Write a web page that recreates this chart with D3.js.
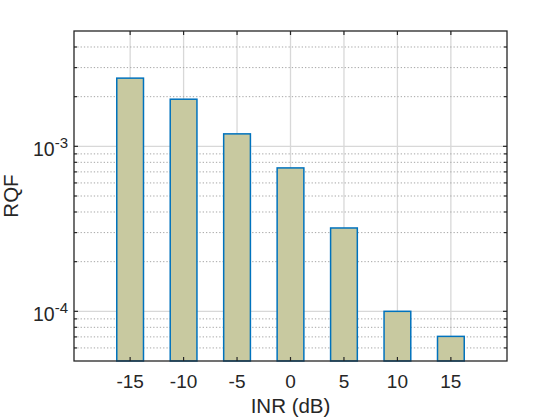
<!DOCTYPE html>
<html>
<head>
<meta charset="utf-8">
<script src="https://cdn.jsdelivr.net/npm/d3@7"></script>
<style>
  body { margin: 0; background: #fff; }
  text { font-family: "Liberation Sans", Arial, Helvetica, sans-serif; fill: #262626; }
</style>
</head>
<body>
<div id="main"></div>
<script>
// INR values (dB) and the measured RQF for each
const inr = [-15, -10, -5, 0, 5, 10, 15];
const rqf = [2.59e-3, 1.93e-3, 1.19e-3, 7.4e-4, 3.2e-4, 1.0e-4, 7.05e-5];
// decades that get a labelled tick
const yTickExps = [-4, -3];

const width = 560, height = 420;
const plotL = 74, plotR = 507, plotT = 31, plotB = 361;

const svg = d3.select('#main')
    .append('svg')
        .attr('width', width)
        .attr('height', height);

const x = d3.scaleLinear().domain([-20.25, 20.25]).range([plotL, plotR]);
const y = d3.scaleLog().domain([5e-5, 5e-3]).range([plotB, plotT]);

// minor ticks: 2..9 of each decade inside the domain
const minor = [];
[-5, -4, -3].forEach(e => {
    for (let m = 2; m <= 9; m++) {
        const v = m * Math.pow(10, e);
        if (v > 5e-5 && v < 5e-3) minor.push(v);
    }
});
const major = yTickExps.map(e => Math.pow(10, e));

// grid lines (behind bars)
const grid = svg.append('g');
grid.selectAll('.xgrid').data(inr).enter().append('line')
    .attr('x1', d => x(d)).attr('x2', d => x(d))
    .attr('y1', plotT).attr('y2', plotB)
    .attr('stroke', '#d8d8d8').attr('stroke-width', 1.3);
grid.selectAll('.ymin').data(minor).enter().append('line')
    .attr('x1', plotL).attr('x2', plotR)
    .attr('y1', d => y(d)).attr('y2', d => y(d))
    .attr('stroke', '#a6a6a6').attr('stroke-width', 1)
    .attr('stroke-dasharray', '1.3,2');
grid.selectAll('.ymaj').data(major).enter().append('line')
    .attr('x1', plotL).attr('x2', plotR)
    .attr('y1', d => y(d)).attr('y2', d => y(d))
    .attr('stroke', '#d8d8d8').attr('stroke-width', 1.3);

// bars
const barW = x(2.5) - x(0);
svg.selectAll('.bar').data(inr).enter().append('rect')
    .attr('x', d => x(d) - barW / 2)
    .attr('width', barW)
    .attr('y', (d, i) => y(rqf[i]))
    .attr('height', (d, i) => plotB - y(rqf[i]))
    .attr('fill', '#c8c9a0')
    .attr('stroke', '#0072bd')
    .attr('stroke-width', 1.5);

// box
svg.append('rect')
    .attr('x', plotL).attr('y', plotT)
    .attr('width', plotR - plotL).attr('height', plotB - plotT)
    .attr('fill', 'none').attr('stroke', '#262626').attr('stroke-width', 1.3);

// ticks, inward, on all four sides
const tk = svg.append('g').attr('stroke', '#262626').attr('stroke-width', 1.2);
const tl = 4;
inr.forEach(d => {
    tk.append('line').attr('x1', x(d)).attr('x2', x(d)).attr('y1', plotB).attr('y2', plotB - tl);
    tk.append('line').attr('x1', x(d)).attr('x2', x(d)).attr('y1', plotT).attr('y2', plotT + tl);
});
major.concat(minor).forEach(v => {
    const len = major.includes(v) ? tl : 3;
    tk.append('line').attr('x1', plotL).attr('x2', plotL + len).attr('y1', y(v)).attr('y2', y(v));
    tk.append('line').attr('x1', plotR).attr('x2', plotR - len).attr('y1', y(v)).attr('y2', y(v));
});

// x tick labels
svg.selectAll('.xl').data(inr).enter().append('text')
    .attr('x', d => x(d)).attr('y', 388)
    .attr('text-anchor', 'middle')
    .attr('font-size', 19)
    .text(d => d);

// y tick labels 10^e
yTickExps.forEach(e => {
    const t = svg.append('text')
        .attr('x', 68).attr('y', y(Math.pow(10, e)) + 10)
        .attr('text-anchor', 'end')
        .attr('font-size', 19.5);
    t.append('tspan').text('10');
    t.append('tspan').attr('dy', -8.5).attr('font-size', 15).text(e);
});

// axis labels
svg.append('text')
    .attr('x', (plotL + plotR) / 2).attr('y', 413)
    .attr('text-anchor', 'middle')
    .attr('font-size', 20.5)
    .text('INR (dB)');
svg.append('text')
    .attr('transform', `translate(18,${(plotT + plotB) / 2}) rotate(-90)`)
    .attr('text-anchor', 'middle')
    .attr('font-size', 20.5)
    .text('RQF');
</script>
</body>
</html>
